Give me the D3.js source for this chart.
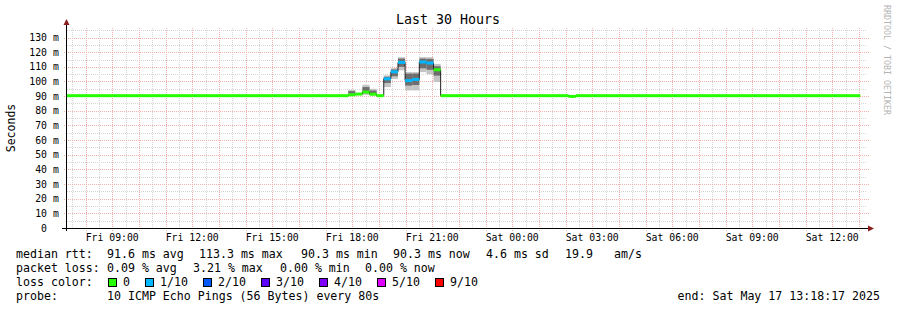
<!DOCTYPE html>
<html>
<head>
<meta charset="utf-8">
<script src="https://cdnjs.cloudflare.com/ajax/libs/d3/7.8.5/d3.min.js"></script>
<style>
body { margin: 0; background: #fff; }
svg text { font-family: "DejaVu Sans Mono", monospace; white-space: pre; }
</style>
</head>
<body>
<div id="chart"></div>
<script>
var svgWidth = 897;
var svgHeight = 310;

// plot box in pixels (rrdtool style, 800x200)
var margin = {top: 28, left: 67};
var width = 800;
var height = 200;

var graphStart = "2025-05-16 07:18:17";
var graphEnd = "2025-05-17 13:18:17";

// 16 min consolidated steps, each value holds until the next start
var stepStart = [
  "2025-05-16 07:18:00", "2025-05-16 17:51:00", "2025-05-16 18:07:00", "2025-05-16 18:23:00",
  "2025-05-16 18:39:00", "2025-05-16 18:55:00", "2025-05-16 19:11:00", "2025-05-16 19:27:00",
  "2025-05-16 19:43:00", "2025-05-16 19:59:00", "2025-05-16 20:15:00", "2025-05-16 20:31:00",
  "2025-05-16 20:47:00", "2025-05-16 21:03:00", "2025-05-16 21:19:00", "2025-05-17 02:07:00",
  "2025-05-17 02:23:00"
];
var dataEnd = "2025-05-17 13:03:00";

// median rtt in ms
var medianRtt = [90.3, 90.9, 91.4, 92.8, 91.3, 90.3, 101.8, 106.6, 113.0, 100.6, 101.4, 113.3, 112.6, 108.0, 90.3, 89.8, 90.3];
// lost pings out of 10
var lossCount = [0, 0, 0, 0, 0, 0, 1, 1, 1, 1, 1, 1, 1, 0, 0, 0, 0];
// smoke (spread of the pings) in ms
var smokeMax  = [null, 94.3, null, 97.7, 95.0, null, 104.2, 109.1, 116.6, 106.4, 106.4, 116.6, 116.6, 112.0, null, null, null];
var smokeHigh = [null, 93.4, null, 96.2, 93.8, null, 103.2, 108.2, 115.6, 105.4, 105.4, 115.6, 115.4, 110.4, null, null, null];
var smokeLow  = [null, 91.6, null, 92.0, 91.4, null,  99.0, 103.6, 110.0,  97.2,  97.6, 109.0, 108.0, 104.0, null, null, null];
var smokeMin  = [null, 90.9, null, 90.9, 90.9, null,  96.2, 101.8, 107.6,  93.9,  93.9, 106.4, 105.0,  99.6, null, null, null];

var lossLabels = ["0", "1/10", "2/10", "3/10", "4/10", "5/10", "9/10"];
var lossLevels = [0, 1, 2, 3, 4, 5, 9];
var lossColors = ["#26ff00", "#00b8ff", "#0059ff", "#5e00ff", "#7e00ff", "#dd00ff", "#ff0000"];

var yTicks = [0, 10, 20, 30, 40, 50, 60, 70, 80, 90, 100, 110, 120, 130];

var statsRtt = [
  ["median rtt:", 16], ["91.6 ms avg", 107], ["113.3 ms max", 199], ["90.3 ms min", 301],
  ["90.3 ms now", 393], ["4.6 ms sd", 486], ["19.9", 565], ["am/s", 614]
];
var statsLoss = [
  ["packet loss:", 16], ["0.09 % avg", 107], ["3.21 % max", 193], ["0.00 % min", 280], ["0.00 % now", 365]
];

var parseTime = d3.timeParse("%Y-%m-%d %H:%M:%S");

var svg = d3.select("#chart").append("svg")
  .attr("width", svgWidth)
  .attr("height", svgHeight);

var x0 = margin.left, x1 = margin.left + width;
var y0 = margin.top + height, y1 = margin.top;

var xScale = d3.scaleTime()
  .domain([parseTime(graphStart), parseTime(graphEnd)])
  .range([x0, x1]);

var yScale = d3.scaleLinear()
  .domain([0, 136.5])
  .range([y0, y1]);

var crisp = v => Math.round(v) + 0.5;

// grid
var grid = svg.append("g").attr("fill", "none").attr("stroke-width", 1).attr("stroke-dasharray", "1,1");

grid.selectAll(".vmin").data(xScale.ticks(d3.timeMinute.every(30)))
  .enter().append("line")
  .attr("x1", d => crisp(xScale(d))).attr("x2", d => crisp(xScale(d)))
  .attr("y1", y1).attr("y2", y0)
  .attr("stroke", "#d6d6d6");

grid.selectAll(".hmin").data(d3.range(5, 136, 10))
  .enter().append("line")
  .attr("x1", x0).attr("x2", x1)
  .attr("y1", d => crisp(yScale(d))).attr("y2", d => crisp(yScale(d)))
  .attr("stroke", "#d6d6d6");

grid.selectAll(".vmaj").data(xScale.ticks(d3.timeHour.every(1)))
  .enter().append("line")
  .attr("x1", d => crisp(xScale(d))).attr("x2", d => crisp(xScale(d)))
  .attr("y1", y1).attr("y2", y0 + 3)
  .attr("stroke", "#f5b0b0");

grid.selectAll(".hmaj").data(yTicks.slice(1))
  .enter().append("line")
  .attr("x1", x0 - 3).attr("x2", x1 + 2)
  .attr("y1", d => crisp(yScale(d))).attr("y2", d => crisp(yScale(d)))
  .attr("stroke", "#f5b0b0");

// steps
var steps = stepStart.map(function(s, i) {
  return {
    t0: parseTime(s),
    t1: parseTime(i < stepStart.length - 1 ? stepStart[i + 1] : dataEnd),
    median: medianRtt[i],
    loss: lossCount[i],
    min: smokeMin[i], low: smokeLow[i], high: smokeHigh[i], max: smokeMax[i]
  };
});
var smoky = steps.filter(d => d.max != null);

// smoke
svg.append("g").selectAll("rect").data(smoky).enter().append("rect")
  .attr("x", d => xScale(d.t0))
  .attr("width", d => xScale(d.t1) - xScale(d.t0))
  .attr("y", d => yScale(d.max))
  .attr("height", d => yScale(d.min) - yScale(d.max))
  .attr("fill", "#c4c4c4");

svg.append("g").selectAll("rect").data(smoky).enter().append("rect")
  .attr("x", d => xScale(d.t0))
  .attr("width", d => xScale(d.t1) - xScale(d.t0))
  .attr("y", d => yScale(d.high))
  .attr("height", d => yScale(d.low) - yScale(d.high))
  .attr("fill", "#6e6e6e");

// median line (dark), then the loss coloured band
var linePts = steps.map(d => [d.t0, d.median]);
linePts.push([parseTime(dataEnd), medianRtt[medianRtt.length - 1]]);

svg.append("path")
  .datum(linePts)
  .attr("fill", "none")
  .attr("stroke", "#202020")
  .attr("stroke-width", 1)
  .attr("d", d3.line().x(d => xScale(d[0])).y(d => yScale(d[1])).curve(d3.curveStepAfter));

function lossColor(n) {
  for (var i = 0; i < lossLevels.length; i++) {
    if (n <= lossLevels[i]) return lossColors[i];
  }
  return lossColors[lossColors.length - 1];
}

svg.append("g").selectAll("rect").data(steps).enter().append("rect")
  .attr("x", d => xScale(d.t0))
  .attr("width", d => xScale(d.t1) - xScale(d.t0))
  .attr("y", d => yScale(d.median) - 1.5)
  .attr("height", 3)
  .attr("fill", d => lossColor(d.loss));

// axes
var axisColor = "#000";
var arrowColor = "#8b1c1c";

svg.append("line")
  .attr("x1", x0 - 5).attr("x2", x1 + 3)
  .attr("y1", y0 + 0.5).attr("y2", y0 + 0.5)
  .attr("stroke", axisColor);
svg.append("path")
  .attr("d", `M${x1 + 1},${y0 - 2.5}L${x1 + 7},${y0 + 0.5}L${x1 + 1},${y0 + 3.5}Z`)
  .attr("fill", arrowColor);

svg.append("line")
  .attr("x1", x0 - 0.5).attr("x2", x0 - 0.5)
  .attr("y1", y0 + 3).attr("y2", y1 - 4)
  .attr("stroke", axisColor);
svg.append("path")
  .attr("d", `M${x0 - 3.5},${y1 - 3}L${x0 - 0.5},${y1 - 9}L${x0 + 2.5},${y1 - 3}Z`)
  .attr("fill", arrowColor);

// y labels
var yLab = svg.append("g").attr("font-size", "9.8px").attr("fill", "#000");
yLab.selectAll(".num").data(yTicks).enter().append("text")
  .attr("x", 47)
  .attr("y", d => yScale(d) + 3.5)
  .attr("text-anchor", "end")
  .text(d => d);
yLab.selectAll(".unit").data(yTicks.slice(1)).enter().append("text")
  .attr("x", 53)
  .attr("y", d => yScale(d) + 3.5)
  .text("m");

// x labels
var fmt = d3.timeFormat("%a %H:%M");
svg.append("g").attr("font-size", "9.8px").attr("fill", "#000")
  .selectAll("text").data(xScale.ticks(d3.timeHour.every(3)))
  .enter().append("text")
  .attr("x", d => xScale(d))
  .attr("y", 241)
  .attr("text-anchor", "middle")
  .text(d => fmt(d));

// title and side texts
svg.append("text")
  .attr("x", 448).attr("y", 24)
  .attr("text-anchor", "middle")
  .attr("font-size", "13.3px")
  .text("Last 30 Hours");

svg.append("text")
  .attr("transform", "translate(15,128) rotate(-90)")
  .attr("text-anchor", "middle")
  .attr("font-size", "11.5px")
  .text("Seconds");

svg.append("text")
  .attr("transform", "translate(884,5) rotate(90)")
  .attr("font-size", "8.3px")
  .attr("fill", "#b4b4b4")
  .text("RRDTOOL / TOBI OETIKER");

// legend
var leg = svg.append("g").attr("font-size", "11.6px").attr("fill", "#000");

leg.selectAll(".rtt").data(statsRtt).enter().append("text")
  .attr("x", d => d[1]).attr("y", 258).text(d => d[0]);
leg.selectAll(".loss").data(statsLoss).enter().append("text")
  .attr("x", d => d[1]).attr("y", 272).text(d => d[0]);

leg.append("text").attr("x", 16).attr("y", 286).text("loss color:");
var lx = 108;
lossLabels.forEach(function(lab, i) {
  leg.append("rect")
    .attr("x", lx + 0.5).attr("y", 278.5)
    .attr("width", 8).attr("height", 8)
    .attr("fill", lossColors[i])
    .attr("stroke", "#000");
  leg.append("text").attr("x", lx + 15).attr("y", 286).text(lab);
  lx += 15 + lab.length * 7 + 15;
});

leg.append("text").attr("x", 16).attr("y", 300).text("probe:");
leg.append("text").attr("x", 107).attr("y", 300).text("10 ICMP Echo Pings (56 Bytes) every 80s");
leg.append("text").attr("x", 880).attr("y", 300).attr("text-anchor", "end")
  .text("end: Sat May 17 13:18:17 2025");
</script>
</body>
</html>
